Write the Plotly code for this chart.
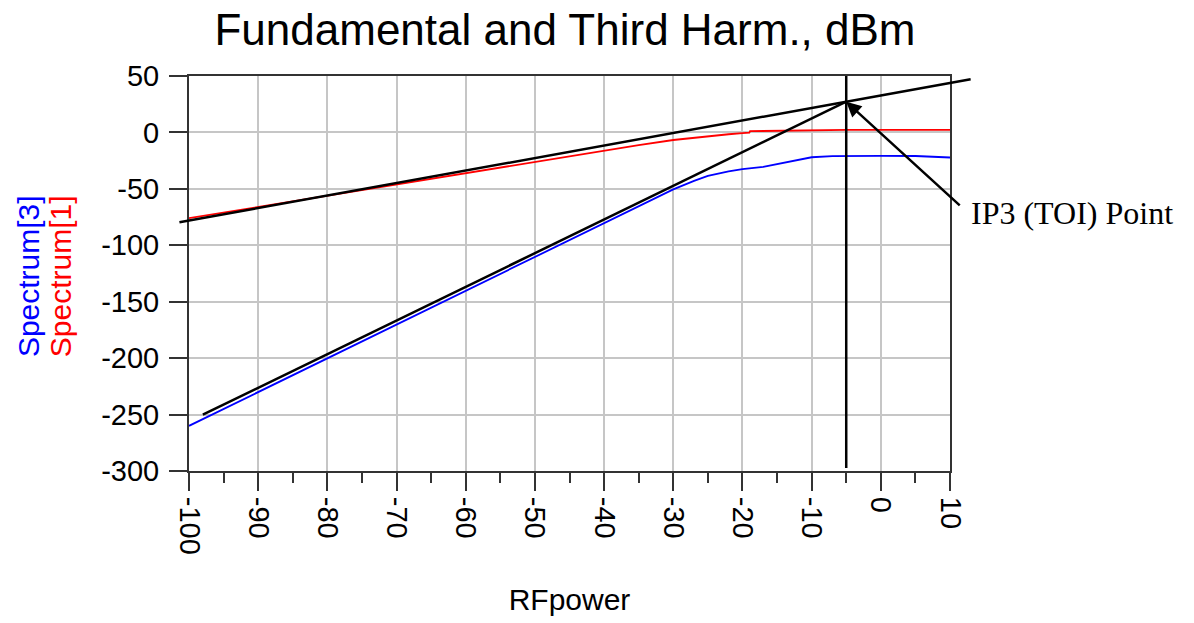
import plotly.graph_objects as go

# ---- data ----
rf_fund = [-100, -95, -90, -85, -80, -75, -70, -65, -60, -55, -50, -45, -40, -35,
           -30, -25, -22, -20, -19, -18.9, -15, -10, -5, 0, 5, 10]
spectrum1 = [-76, -71, -66, -61, -56, -51, -46, -41, -36, -31.2, -26.5, -21.5, -16.3, -11.2,
             -6.7, -3.2, -1.6, -0.6, -0.2, 1.1, 1.6, 2.1, 2.3, 2.3, 2.3, 2.3]

rf_third = [-100, -95, -90, -85, -80, -75, -70, -65, -60, -55, -50, -45, -40, -35,
            -30, -27, -25, -22, -20, -17, -15, -12, -10, -7, -5, 0, 5, 10]
spectrum3 = [-260, -245, -230, -215, -200, -185, -170, -155, -140, -125, -110, -95, -80, -65.5,
             -50.5, -43, -38.5, -34.5, -32.5, -30.5, -28, -24, -22, -21, -20.8, -20.7, -20.9, -22.2]

# IP3 construction lines
ip3_point = (-5, 27.2)
fund_asym_left = (-101.6, -79.9)
fund_asym_right = (13.2, 47.35)
third_asym_start = (-98, -250.1)
vline_bottom = -297.4

x_tickvals = [-100, -90, -80, -70, -60, -50, -40, -30, -20, -10, 0, 10]
x_ticktext = ["-100", "-90", "-80", "-70", "-60", "-50", "-40", "-30", "-20", "-10", "0", "10"]
x_minor = [-95, -85, -75, -65, -55, -45, -35, -25, -15, -5, 5]
y_tickvals = [50, 0, -50, -100, -150, -200, -250, -300]
y_ticktext = ["50", "0", "-50", "-100", "-150", "-200", "-250", "-300"]

FONT = "Liberation Sans, Arial, sans-serif"
AXC = "#333333"
GRID = "#c6c6c6"

fig = go.Figure()
fig.add_trace(go.Scatter(x=rf_fund, y=spectrum1, mode="lines",
                         line=dict(color="#ff0000", width=1.8), name="Spectrum[1]"))
fig.add_trace(go.Scatter(x=rf_third, y=spectrum3, mode="lines",
                         line=dict(color="#0000ff", width=1.8), name="Spectrum[3]"))
# third-order asymptote
fig.add_trace(go.Scatter(x=[third_asym_start[0], ip3_point[0]],
                         y=[third_asym_start[1], ip3_point[1]], mode="lines",
                         line=dict(color="black", width=2.5), showlegend=False))
# vertical line at IP3 input power
fig.add_trace(go.Scatter(x=[ip3_point[0], ip3_point[0]], y=[vline_bottom, 52], mode="lines",
                         line=dict(color="black", width=2.5), showlegend=False))

annos = []
# fundamental asymptote, drawn as two headless arrows meeting at IP3 (not clipped)
for tail in (fund_asym_left, fund_asym_right):
    annos.append(dict(x=ip3_point[0], y=ip3_point[1], xref="x", yref="y",
                      ax=tail[0], ay=tail[1], axref="x", ayref="y",
                      text="", showarrow=True, arrowhead=0, arrowwidth=2.5,
                      arrowcolor="black", standoff=0, startstandoff=0))
# arrow pointing at IP3
annos.append(dict(x=ip3_point[0], y=ip3_point[1], xref="x", yref="y",
                  ax=115, ay=105, text="", showarrow=True, arrowhead=2,
                  arrowsize=1.2, arrowwidth=2.5, arrowcolor="black", standoff=0))
annos.append(dict(x=1.0245, y=0.6535, xref="paper", yref="paper",
                  text="IP3 (TOI) Point", showarrow=False, xanchor="left", yanchor="middle",
                  font=dict(family="Liberation Serif, Times New Roman, serif", size=32, color="black")))
# y-axis titles
annos.append(dict(x=-0.2116, y=0.4933, xref="paper", yref="paper", text="Spectrum[3]",
                  textangle=-90, showarrow=False, xanchor="center", yanchor="middle",
                  font=dict(family=FONT, size=30, color="#0000ff")))
annos.append(dict(x=-0.1695, y=0.4933, xref="paper", yref="paper", text="Spectrum[1]",
                  textangle=-90, showarrow=False, xanchor="center", yanchor="middle",
                  font=dict(family=FONT, size=30, color="#ff0000")))

fig.update_layout(
    width=1194, height=623,
    margin=dict(l=189, r=244, t=76, b=150, pad=0),
    paper_bgcolor="white", plot_bgcolor="white",
    showlegend=False,
    font=dict(family=FONT, color="black"),
    title=dict(text="Fundamental and Third Harm., dBm", x=565 / 1194, xref="container",
               xanchor="center", y=1 - 30 / 623, yref="container", yanchor="middle",
               font=dict(family=FONT, size=44, color="black")),
    annotations=annos,
)
fig.update_xaxes(
    range=[-100, 10], tickvals=x_tickvals, ticktext=x_ticktext, tickangle=90,
    tickfont=dict(size=29, family=FONT, color="black"),
    ticks="outside", ticklen=18, tickwidth=2, tickcolor=AXC,
    showline=True, linecolor=AXC, linewidth=2, mirror=True,
    showgrid=True, gridcolor=GRID, gridwidth=1.5, zeroline=False,
    minor=dict(tickvals=x_minor, ticks="outside", ticklen=10, tickwidth=2, tickcolor=AXC, showgrid=False),
    title=dict(text="RFpower", font=dict(size=30, family=FONT, color="black"), standoff=35),
)
fig.update_yaxes(
    range=[-300, 50], tickvals=y_tickvals, ticktext=y_ticktext,
    tickfont=dict(size=29, family=FONT, color="black"),
    ticks="outside", ticklen=18, tickwidth=2, tickcolor=AXC, ticklabelstandoff=4,
    showline=True, linecolor=AXC, linewidth=2, mirror=True,
    showgrid=True, gridcolor=GRID, gridwidth=1.5, zeroline=False,
)

fig.write_html("out.html")
